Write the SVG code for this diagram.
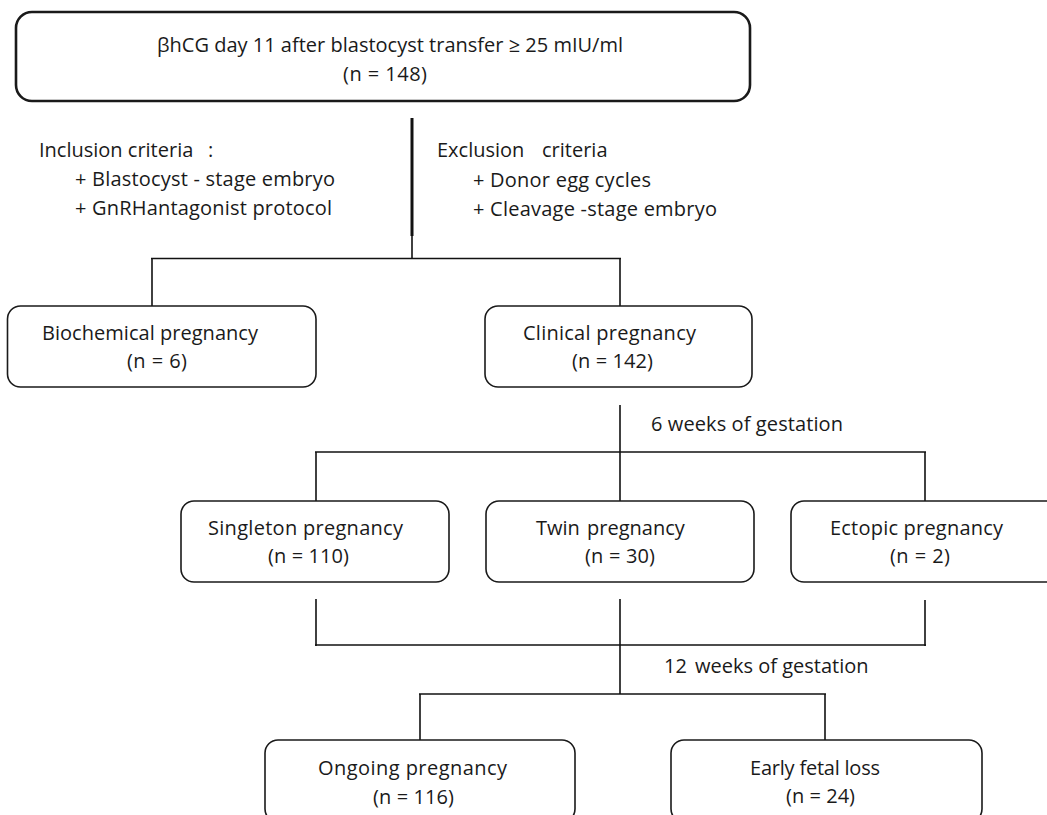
<svg xmlns="http://www.w3.org/2000/svg" width="1047" height="815" viewBox="0 0 1047 815">
<style>
.box{fill:#fff;stroke:#1a1a1a;stroke-width:1.6}
.top{stroke-width:2.6}
.t{font-family:"Open Sans","Liberation Sans",sans-serif;font-size:20px;fill:#1a1a1a}
.c line{stroke:#111;stroke-width:1.6}
</style>
<rect width="1047" height="815" fill="#fff"/>
<g class="c" id="connectors">
<line x1="412" y1="118" x2="412" y2="236" style="stroke-width:3"/>
<line x1="412" y1="235" x2="412" y2="259"/>
<line x1="151" y1="258.5" x2="621" y2="258.5"/>
<line x1="152" y1="258" x2="152" y2="306"/>
<line x1="620" y1="258" x2="620" y2="306"/>
<line x1="620" y1="405" x2="620" y2="501"/>
<line x1="315" y1="452" x2="926" y2="452"/>
<line x1="316" y1="452" x2="316" y2="501"/>
<line x1="925" y1="452" x2="925" y2="501"/>
<line x1="316" y1="599" x2="316" y2="646"/>
<line x1="925" y1="600" x2="925" y2="646"/>
<line x1="315" y1="645" x2="926" y2="645"/>
<line x1="620" y1="599" x2="620" y2="694"/>
<line x1="419" y1="694" x2="826" y2="694"/>
<line x1="420" y1="694" x2="420" y2="740"/>
<line x1="825" y1="694" x2="825" y2="740"/>
</g>
<g id="n-top">
<rect class="box top" x="16" y="12" width="734" height="89" rx="16"/>
<text class="t" x="157" y="52" textLength="466">βhCG day 11 after blastocyst transfer ≥ 25 mIU/ml</text>
<text class="t" x="343" y="81" textLength="84">(n = 148)</text>
</g>
<g id="n-inclusion">
<text class="t" y="157"><tspan x="39">Inclusion criteria</tspan><tspan x="208">:</tspan></text>
<text class="t" x="75" y="186" textLength="260">+ Blastocyst - stage embryo</text>
<text class="t" x="75" y="215" textLength="257">+ GnRHantagonist protocol</text>
</g>
<g id="n-exclusion">
<text class="t" y="157"><tspan x="437">Exclusion</tspan><tspan x="542">criteria</tspan></text>
<text class="t" x="473" y="187" textLength="178">+ Donor egg cycles</text>
<text class="t" x="473" y="216" textLength="244">+ Cleavage -stage embryo</text>
</g>
<g id="n-biochemical">
<rect class="box" x="7.5" y="306" width="308.5" height="81" rx="13"/>
<text class="t" x="42" y="340" textLength="216">Biochemical pregnancy</text>
<text class="t" x="127" y="368" textLength="60">(n = 6)</text>
</g>
<g id="n-clinical">
<rect class="box" x="485" y="306" width="267" height="81" rx="13"/>
<text class="t" x="523" y="340" textLength="173">Clinical pregnancy</text>
<text class="t" x="572" y="368" textLength="81">(n = 142)</text>
</g>
<text class="t" x="651" y="431" textLength="192">6 weeks of gestation</text>
<g id="n-singleton">
<rect class="box" x="181" y="501" width="268" height="81" rx="13"/>
<text class="t" x="208" y="535" textLength="195">Singleton pregnancy</text>
<text class="t" x="268" y="563" textLength="81">(n = 110)</text>
</g>
<g id="n-twin">
<rect class="box" x="486" y="501" width="268" height="81" rx="13"/>
<text class="t" y="535"><tspan x="536">Twin</tspan><tspan x="587">pregnancy</tspan></text>
<text class="t" x="585" y="563" textLength="70">(n = 30)</text>
</g>
<g id="n-ectopic">
<rect class="box" x="791" y="501" width="272" height="81" rx="13"/>
<text class="t" x="830" y="535" textLength="173">Ectopic pregnancy</text>
<text class="t" x="890" y="563" textLength="60">(n = 2)</text>
</g>
<text class="t" y="673"><tspan x="664">12</tspan><tspan x="695">weeks of gestation</tspan></text>
<g id="n-ongoing">
<rect class="box" x="265" y="740" width="310" height="82" rx="13"/>
<text class="t" x="318" y="775" textLength="189">Ongoing pregnancy</text>
<text class="t" x="373" y="804" textLength="81">(n = 116)</text>
</g>
<g id="n-early">
<rect class="box" x="671" y="740" width="311" height="82" rx="13"/>
<text class="t" x="750" y="775" textLength="130">Early fetal loss</text>
<text class="t" x="786" y="803" textLength="69">(n = 24)</text>
</g>
</svg>
